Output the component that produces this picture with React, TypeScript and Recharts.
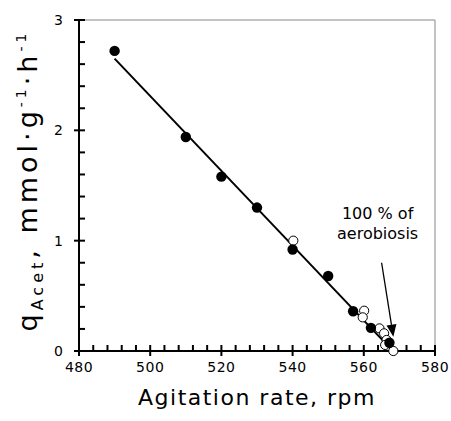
import React from 'react';
import { ScatterChart, Scatter, XAxis, YAxis, ReferenceLine } from 'recharts';

// Filled circles
const filledRpm = [490, 510, 520, 530, 540, 550, 557, 562, 567.2];
const filledQ = [2.72, 1.94, 1.58, 1.3, 0.92, 0.68, 0.36, 0.21, 0.075];
// Open circles
const openRpm = [540.2, 560.1, 559.7, 564.4, 565.7, 566.4, 566, 568.3];
const openQ = [1.0, 0.365, 0.305, 0.205, 0.16, 0.1, 0.055, 0.0];
// Regression line end points
const fitRpm = [490, 567];
const fitQ = [2.65, 0.04];
// Arrow (start -> tip)
const arrowRpm = [565.0, 568.3];
const arrowQ = [0.8, 0.13];
const annotationLines = ['100 % of', 'aerobiosis'];

const xTicks = Array.from({ length: 26 }, (_, i) => 480 + i * 4);
const yTicks = Array.from({ length: 16 }, (_, i) => Math.round(i * 0.2 * 10) / 10);
const xMajor = [480, 500, 520, 540, 560, 580];
const yMajor = [0, 1, 2, 3];

const filled = filledRpm.map((x, i) => ({ x, y: filledQ[i] }));
const open = openRpm.map((x, i) => ({ x, y: openQ[i] }));
const fit = fitRpm.map((x, i) => ({ x, y: fitQ[i] }));

const FONT = 'DejaVu Sans';

const XTick = (props: any) => {
  const x = Number(props.x);
  const y = Number(props.y);
  const v = props.payload.value;
  return (
    <text x={x} y={y + 21} textAnchor="middle" fontSize={14} fontFamily={FONT} fill="#000" stroke="none" letterSpacing={0.5}>
      {v}
    </text>
  );
};

const YTick = (props: any) => {
  const x = Number(props.x);
  const y = Number(props.y);
  const v = props.payload.value;
  return (
    <text x={x - 16} y={y + 5} textAnchor="end" fontSize={14} fontFamily={FONT} fill="#000" stroke="none">
      {v}
    </text>
  );
};

// tick marks drawn from the reference line geometry
const XTickMark = (props: any) => {
  const { x1, y1, y2, major } = props;
  if (x1 == null) return null;
  const yb = Math.max(y1, y2);
  return (
    <g>
      <line x1={x1} y1={yb - 6} x2={x1} y2={major ? yb + 5 : yb} stroke="#000" strokeWidth={2} />
    </g>
  );
};
const YTickMark = (props: any) => {
  const { x1, x2, y1, major } = props;
  if (y1 == null) return null;
  const xl = Math.min(x1, x2);
  return (
    <g>
      <line x1={major ? xl - 5 : xl} y1={y1} x2={xl + 6} y2={y1} stroke="#000" strokeWidth={2} />
    </g>
  );
};

const XLabel = (props: any) => {
  const vb = props.viewBox;
  return (
    <text x={vb.x + vb.width / 2} y={vb.y + 54} textAnchor="middle" fontSize={22} fontFamily={FONT} fill="#000" letterSpacing={1.5}>
      Agitation rate, rpm
    </text>
  );
};

const YLabel = (props: any) => {
  const vb = props.viewBox;
  const cx = 37;
  const cy = vb.y + vb.height / 2 - 5;
  return (
    <text transform={`translate(${cx},${cy}) rotate(-90)`} textAnchor="middle" fontFamily={FONT} fill="#000" fontSize={27} letterSpacing={4}>
      <tspan>q</tspan>
      <tspan fontSize={16} dy={6}>Acet</tspan>
      <tspan dy={-6}>, mmol·g</tspan>
      <tspan fontSize={14} dy={-11}>-1</tspan>
      <tspan dy={11}>·h</tspan>
      <tspan fontSize={14} dy={-11}>-1</tspan>
    </text>
  );
};

const ArrowShape = (props: any) => {
  const { x1, y1, x2, y2 } = props;
  if (x1 == null) return null;
  const dx = x2 - x1;
  const dy = y2 - y1;
  const len = Math.sqrt(dx * dx + dy * dy);
  const ux = dx / len;
  const uy = dy / len;
  const hl = 12;
  const hw = 5;
  const bx = x2 - ux * hl;
  const by = y2 - uy * hl;
  const px = -uy;
  const py = ux;
  return (
    <g>
      <line x1={x1} y1={y1} x2={bx} y2={by} stroke="#000" strokeWidth={1.3} />
      <polygon points={`${x2},${y2} ${bx + px * hw},${by + py * hw} ${bx - px * hw},${by - py * hw}`} fill="#000" />
      <text x={x1 - 4} y={y1 - 44} textAnchor="middle" fontSize={16} fontFamily={FONT} fill="#000">
        {annotationLines[0]}
      </text>
      <text x={x1 - 4} y={y1 - 24} textAnchor="middle" fontSize={16} fontFamily={FONT} fill="#000">
        {annotationLines[1]}
      </text>
    </g>
  );
};

const FilledDot = (props: any) => {
  const { cx, cy } = props;
  return <circle cx={cx} cy={cy} r={5.2} fill="#000" />;
};
const OpenDot = (props: any) => {
  const { cx, cy } = props;
  return <circle cx={cx} cy={cy} r={4.6} fill="#fff" stroke="#000" strokeWidth={1} />;
};
const NoDot = () => <g />;

export default function App() {
  return (
    <div style={{ position: 'absolute', left: 0, top: 0, background: '#fff' }}>
      <ScatterChart width={451} height={421} margin={{ top: 20, right: 16, left: 0, bottom: 0 }}>
        <XAxis
          type="number"
          dataKey="x"
          domain={[480, 580]}
          ticks={xMajor}
          interval={0}
          tickSize={0}
          tickMargin={0}
          tickLine={false}
          tick={<XTick />}
          height={70}
          axisLine={{ stroke: '#000', strokeWidth: 2 }}
          label={<XLabel />}
        />
        <YAxis
          type="number"
          dataKey="y"
          domain={[0, 3]}
          ticks={yMajor}
          interval={0}
          tickSize={0}
          tickMargin={0}
          tickLine={false}
          tick={<YTick />}
          width={79}
          axisLine={{ stroke: '#000', strokeWidth: 2 }}
          label={<YLabel />}
        />
        <ReferenceLine y={3} stroke="#888" strokeWidth={1} />
        <ReferenceLine x={580} stroke="#888" strokeWidth={1} />
        {xTicks.map((t) => (
          <ReferenceLine key={`xt${t}`} x={t} shape={<XTickMark major={t % 20 === 0} />} />
        ))}
        {yTicks.map((t) => (
          <ReferenceLine key={`yt${t}`} y={t} shape={<YTickMark major={Math.abs(t - Math.round(t)) < 1e-6} />} />
        ))}
        <Scatter data={fit} line={{ stroke: '#000', strokeWidth: 2 }} shape={<NoDot />} isAnimationActive={false} />
        <Scatter data={open} shape={<OpenDot />} isAnimationActive={false} />
        <Scatter data={filled} shape={<FilledDot />} isAnimationActive={false} />
        <ReferenceLine
          segment={[
            { x: arrowRpm[0], y: arrowQ[0] },
            { x: arrowRpm[1], y: arrowQ[1] },
          ]}
          shape={<ArrowShape />}
        />
      </ScatterChart>
    </div>
  );
}
